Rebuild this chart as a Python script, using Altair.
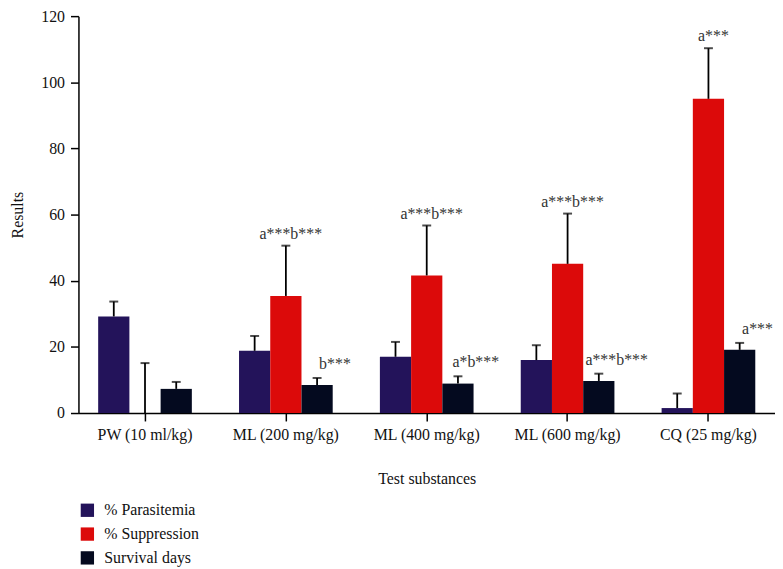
import altair as alt
import pandas as pd

groups = ["PW (10 ml/kg)", "ML (200 mg/kg)", "ML (400 mg/kg)", "ML (600 mg/kg)", "CQ (25 mg/kg)"]
series = ["% Parasitemia", "% Suppression", "Survival days"]
colors = ["#23135a", "#dc0a0a", "#040a1f"]

parasitemia = [29.2, 18.8, 17.0, 16.0, 1.5]
parasitemia_err = [33.7, 23.3, 21.5, 20.5, 5.9]
suppression = [0.0, 35.4, 41.6, 45.1, 95.0]
suppression_err = [15.1, 50.6, 56.7, 60.3, 110.3]
survival = [7.3, 8.5, 8.9, 9.7, 19.1]
survival_err = [9.4, 10.6, 11.1, 11.9, 21.2]

suppression_labels = ["", "a***b***", "a***b***", "a***b***", "a***"]
survival_labels = ["", "b***", "a*b***", "a***b***", "a***"]
parasitemia_labels = ["", "", "", "", ""]

rows = []
for s, vals, errs, labs in [
    (series[0], parasitemia, parasitemia_err, parasitemia_labels),
    (series[1], suppression, suppression_err, suppression_labels),
    (series[2], survival, survival_err, survival_labels),
]:
    for g, v, e, l in zip(groups, vals, errs, labs):
        rows.append({"group": g, "series": s, "value": v, "err": e, "label": l})
df = pd.DataFrame(rows)

FONT = "Liberation Serif"
FS = 16

x_enc = alt.X("group:N", sort=groups,
              scale=alt.Scale(paddingInner=0.335, paddingOuter=0.14),
              axis=alt.Axis(title="Test substances", labelAngle=0, labelFontSize=FS,
                            titleFontSize=FS, labelPadding=6, titlePadding=28,
                            tickSize=8, tickWidth=1.5, domainWidth=1.5,
                            labelFont=FONT, titleFont=FONT, titleFontWeight="normal",
                            labelColor="#111", titleColor="#111"))
xoff = alt.XOffset("series:N", sort=series, scale=alt.Scale(paddingInner=0, paddingOuter=0))
y_scale = alt.Scale(domain=[0, 120], nice=False)

base = alt.Chart(df)

bars = base.mark_bar().encode(
    x=x_enc,
    xOffset=xoff,
    y=alt.Y("value:Q", scale=y_scale,
            axis=alt.Axis(title="Results", values=[0, 20, 40, 60, 80, 100, 120],
                          grid=False, labelFontSize=FS, titleFontSize=FS,
                          tickSize=8, tickWidth=1.5, domainWidth=1.5, labelPadding=6,
                          titlePadding=15, labelFont=FONT, titleFont=FONT,
                          titleFontWeight="normal", labelColor="#111", titleColor="#111")),
    color=alt.Color("series:N", sort=series,
                    scale=alt.Scale(domain=series, range=colors),
                    legend=alt.Legend(title=None, orient="none", legendX=1, legendY=490,
                                      direction="vertical", symbolType="square",
                                      symbolSize=180, symbolStrokeWidth=0,
                                      labelFontSize=FS, labelFont=FONT, rowPadding=8,
                                      labelOffset=9, labelColor="#111")),
)

rules = base.mark_rule(color="black", strokeWidth=1.8).encode(
    x=alt.X("group:N", sort=groups),
    xOffset=xoff,
    y=alt.Y("value:Q", scale=y_scale),
    y2="err:Q",
)

caps = base.mark_tick(color="black", thickness=2, size=9).encode(
    x=alt.X("group:N", sort=groups),
    xOffset=xoff,
    y=alt.Y("err:Q", scale=y_scale),
)

text_sup = base.transform_filter(
    (alt.datum.series == series[1]) & (alt.datum.label != "")
).mark_text(baseline="bottom", dy=-4, dx=5, fontSize=FS, font=FONT, color="#333").encode(
    x=alt.X("group:N", sort=groups),
    xOffset=xoff,
    y=alt.Y("err:Q", scale=y_scale),
    text="label:N",
)

text_surv = base.transform_filter(
    (alt.datum.series == series[2]) & (alt.datum.label != "")
).mark_text(baseline="bottom", dy=-6, dx=18, fontSize=FS, font=FONT, color="#333").encode(
    x=alt.X("group:N", sort=groups),
    xOffset=xoff,
    y=alt.Y("err:Q", scale=y_scale),
    text="label:N",
)

chart = alt.layer(bars, rules, caps, text_sup, text_surv).properties(
    width=702, height=400,
    autosize=alt.AutoSizeParams(type="none"),
    padding={"left": 71, "top": 6, "right": 0, "bottom": 155},
).configure(font=FONT).configure_view(stroke=None).configure_axis(
    domainColor="black", tickColor="black")

chart.save("out.html", embed_options={"renderer": "svg", "actions": False})
